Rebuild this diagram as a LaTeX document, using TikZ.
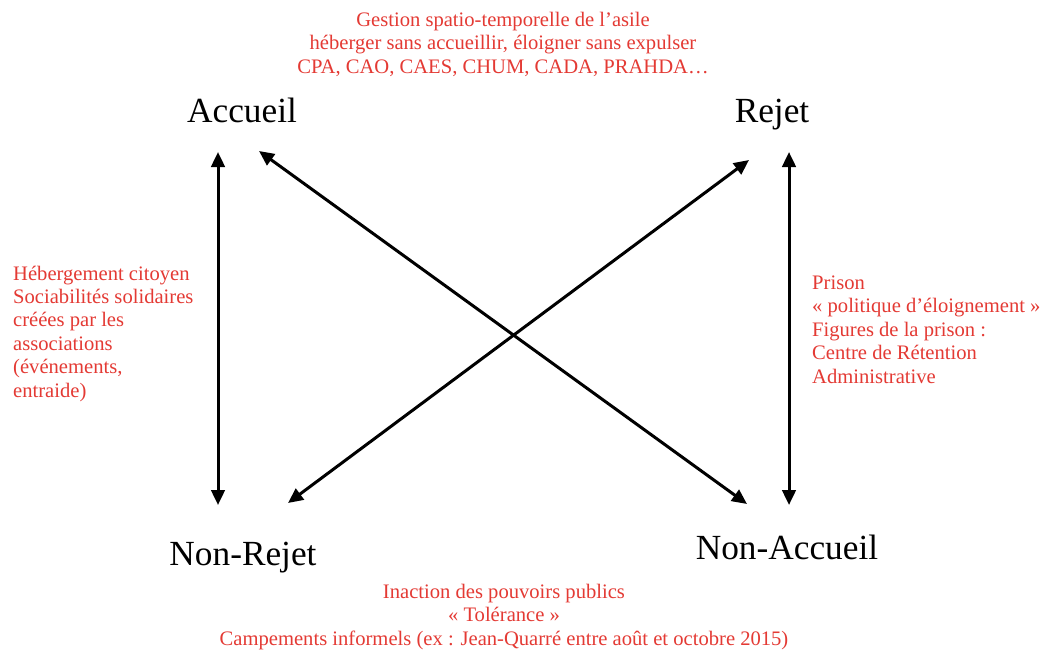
\documentclass[tikz,border=0pt]{standalone}
\usepackage{fontspec}
\setmainfont{Liberation Serif}
\usetikzlibrary{arrows.meta}
\definecolor{lblred}{RGB}{228,58,52}
\tikzset{
  pole/.style={font=\fontsize{35.3}{40}\selectfont, inner sep=0pt, anchor=base},
  note/.style={font=\fontsize{20.6}{23.4}\selectfont, text=lblred, inner sep=0pt},
  link/.style={line width=3pt, {Triangle[length=15pt,width=13.5pt]}-{Triangle[length=15pt,width=13.5pt]}}
}
\begin{document}
\begin{tikzpicture}[x=1pt,y=-1pt]
\useasboundingbox (0,0) rectangle (1040,653);
\fill[white] (0,0) rectangle (1040,653);
% poles
\node[pole] (acc) at (242,122) {Accueil};
\node[pole] (rej) at (772,122) {Rejet};
\node[pole] (nrej) at (243,565) {Non-Rejet};
\node[pole] (nacc) at (787,559) {Non-Accueil};
% arrow ends
\coordinate (lt) at (218,152);
\coordinate (lb) at (218,505);
\coordinate (rt) at (789,152);
\coordinate (rb) at (789,505);
\coordinate (d1a) at (259,151);
\coordinate (d1b) at (747,504);
\coordinate (d2a) at (288,503);
\coordinate (d2b) at (749,160);
\draw[link] (lb) -- (lt);
\draw[link] (rb) -- (rt);
\draw[link] (d1a) -- (d1b);
\draw[link] (d2a) -- (d2b);
% notes (anchor base = last line's baseline)
\node[note, align=center, anchor=base] (top) at (503,73) {Gestion spatio-temporelle de l’asile\\héberger sans accueillir, éloigner sans expulser\\CPA, CAO, CAES, CHUM, CADA, PRAHDA…};
\node[note, align=left, anchor=base west] (left) at (13,397) {Hébergement citoyen\\Sociabilités solidaires\\créées par les\\associations\\(événements,\\entraide)};
\node[note, align=left, anchor=base west] (right) at (812,383) {Prison\\« politique d’éloignement »\\Figures de la prison :\\Centre de Rétention\\Administrative};
\node[note, align=center, anchor=base] (bot) at (504,645) {Inaction des pouvoirs publics\\« Tolérance »\\Campements informels (ex : Jean-Quarré entre août et octobre 2015)};
\end{tikzpicture}
\end{document}
